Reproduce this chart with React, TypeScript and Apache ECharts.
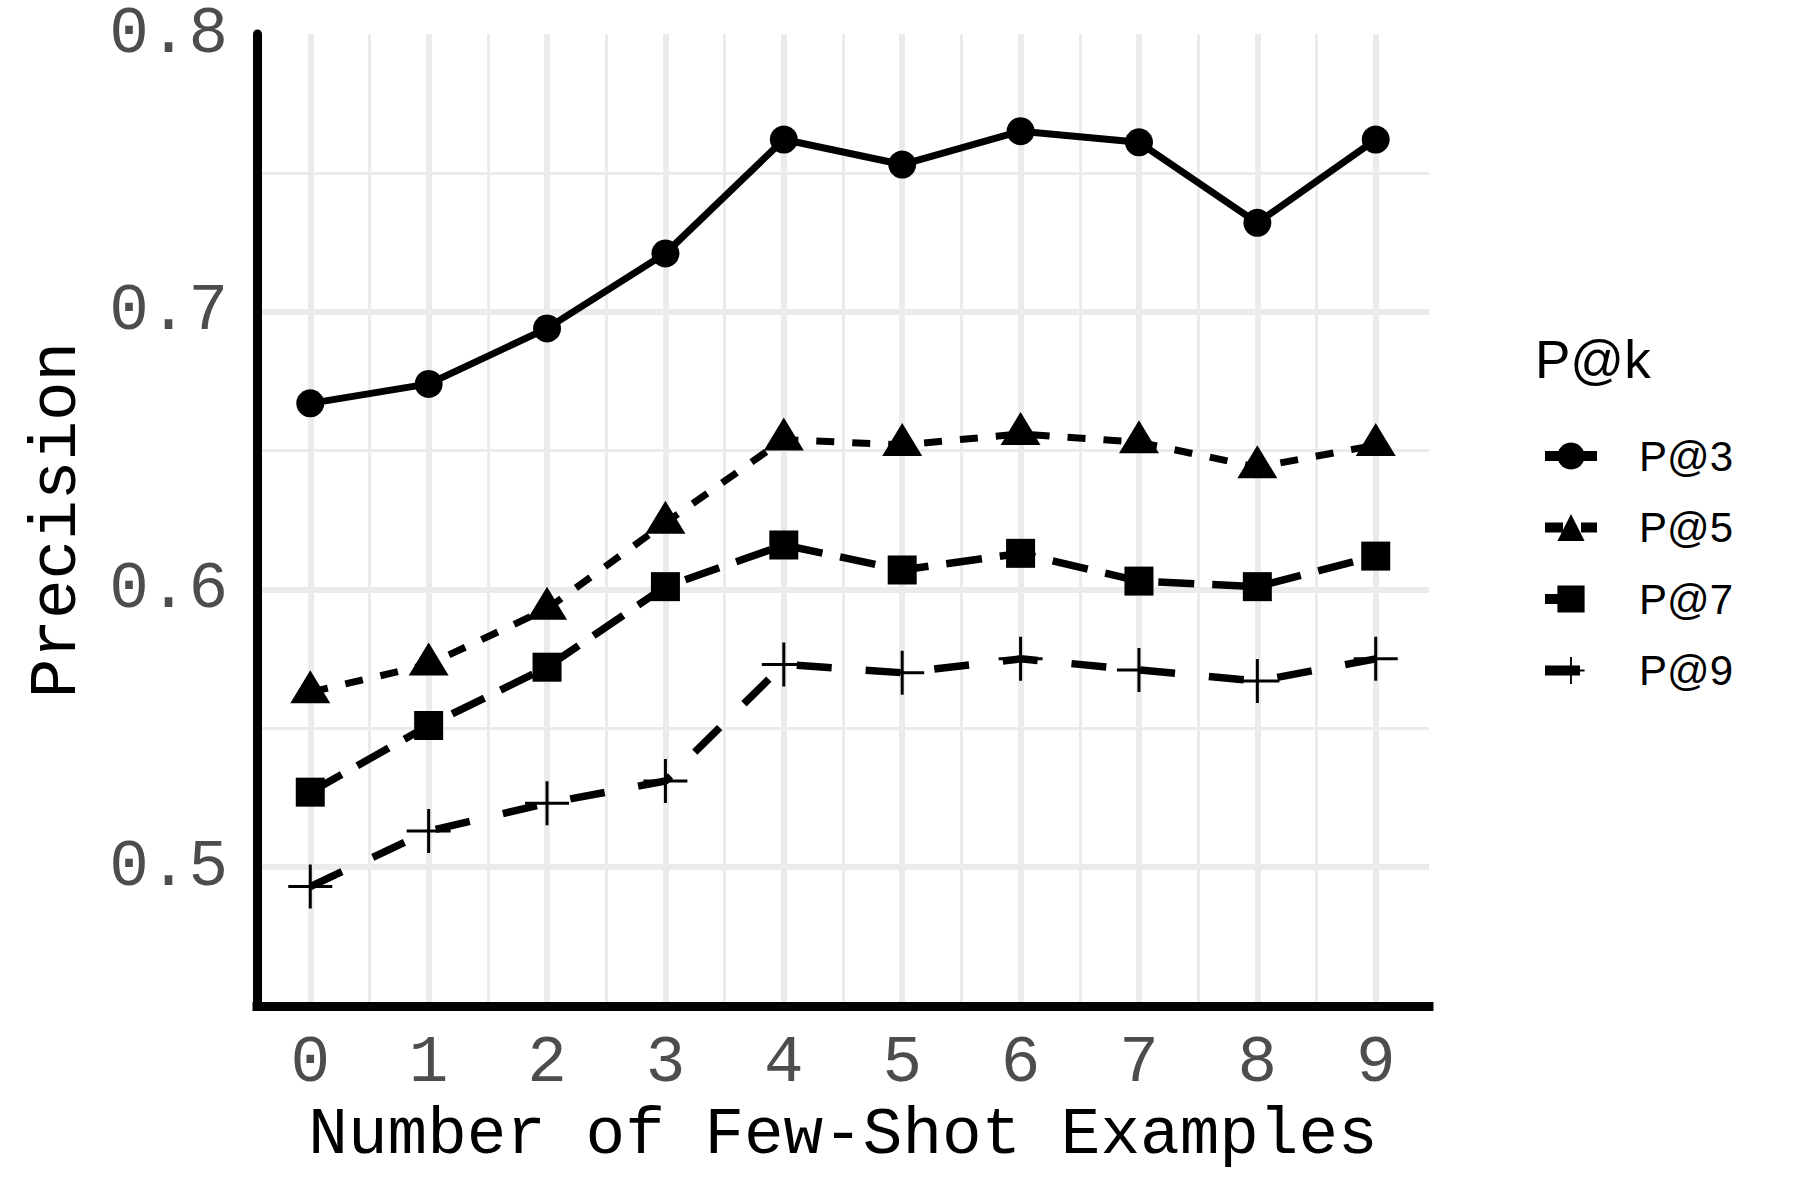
import React, { useEffect, useRef } from "react";
import * as echarts from "echarts";

// ---- data ----
const shots = [0, 1, 2, 3, 4, 5, 6, 7, 8, 9];
const p3 = [0.667, 0.674, 0.694, 0.721, 0.762, 0.753, 0.765, 0.761, 0.732, 0.762];
const p5 = [0.563, 0.573, 0.593, 0.624, 0.654, 0.652, 0.656, 0.653, 0.644, 0.652];
const p7 = [0.527, 0.551, 0.572, 0.601, 0.616, 0.607, 0.613, 0.603, 0.601, 0.612];
const p9 = [0.493, 0.513, 0.523, 0.531, 0.573, 0.57, 0.575, 0.571, 0.567, 0.575];
const seriesNames = ["P@3", "P@5", "P@7", "P@9"];
const legendTitle = "P@k";
const xTitle = "Number of Few-Shot Examples";
const yTitle = "Precision";

const MONO = "'Liberation Mono', 'DejaVu Sans Mono', monospace";
const SANS = "'Liberation Sans', Arial, sans-serif";
const GRID = "#EBEBEB";
const PLUS = "path://M20.5,0H23.5V20.5H44V23.5H23.5V44H20.5V23.5H0V20.5H20.5Z";

export default function App() {
  const ref = useRef<HTMLDivElement>(null);
  useEffect(() => {
    if (!ref.current) return;
    const chart = echarts.init(ref.current, null, { renderer: "svg" });
    const pairs = (vals: number[]) => shots.map((x, i) => [x, vals[i]]);
    const base = {
      type: "line",
      xAxisIndex: 0,
      yAxisIndex: 0,
      z: 3,
      itemStyle: { color: "#000" },
    };
    chart.setOption({
      animation: false,
      backgroundColor: "#fff",
      title: {
        text: legendTitle,
        left: 1535,
        top: 333,
        padding: 0,
        textStyle: { fontFamily: SANS, fontSize: 53, fontWeight: "normal", color: "#000" },
      },
      legend: {
        orient: "vertical",
        left: 1540,
        top: 435,
        padding: 0,
        itemWidth: 52,
        itemHeight: 34,
        itemGap: 29.5,
        data: seriesNames,
        lineStyle: { width: 10 },
        textStyle: {
          fontFamily: SANS,
          fontSize: 42,
          color: "#000",
          lineHeight: 41,
          padding: [0, 0, 0, 37],
        },
      },
      grid: { left: 257, right: 371, top: 34, bottom: 194, outerBoundsMode: "none" },
      xAxis: [
        {
          type: "value",
          min: -0.45,
          max: 9.45,
          minInterval: 1,
          maxInterval: 1,
          position: "bottom",
          z: 2,
          axisLine: { show: true, onZero: false, lineStyle: { color: "#000", width: 9, cap: "square" } },
          axisTick: { show: false },
          splitLine: { show: false },
          axisLabel: {
            showMinLabel: false,
            showMaxLabel: false,
            formatter: (v: number) => (Math.abs(v - Math.round(v)) < 1e-6 ? String(Math.round(v)) : ""),
            margin: 24,
            fontFamily: MONO,
            fontSize: 66,
            color: "#4D4D4D",
          },
          name: xTitle,
          nameLocation: "middle",
          nameGap: 96,
          nameTextStyle: { fontFamily: MONO, fontSize: 66, color: "#000" },
        },
        {
          type: "value",
          min: -0.45,
          max: 9.45,
          minInterval: 1,
          maxInterval: 1,
          position: "top",
          z: 0,
          axisLine: { show: false },
          axisTick: { show: false },
          axisLabel: { show: false },
          splitLine: { show: true, showMinLine: false, showMaxLine: false, lineStyle: { color: GRID, width: 6 } },
        },
        {
          type: "value",
          min: -0.45,
          max: 9.45,
          minInterval: 0.5,
          maxInterval: 0.5,
          position: "top",
          z: 0,
          axisLine: { show: false },
          axisTick: { show: false },
          axisLabel: { show: false },
          splitLine: { show: true, showMinLine: false, showMaxLine: false, lineStyle: { color: GRID, width: 3 } },
        },
      ],
      yAxis: [
        {
          type: "value",
          min: 0.45,
          max: 0.8,
          minInterval: 0.1,
          maxInterval: 0.1,
          position: "left",
          z: 2,
          axisLine: { show: true, onZero: false, lineStyle: { color: "#000", width: 9 } },
          axisTick: { show: false },
          splitLine: { show: false },
          axisLabel: {
            showMinLabel: false,
            formatter: (v: number) => (Math.abs(v * 10 - Math.round(v * 10)) < 1e-6 ? v.toFixed(1) : ""),
            margin: 29,
            fontFamily: MONO,
            fontSize: 66,
            lineHeight: 56,
            color: "#4D4D4D",
          },
          name: yTitle,
          nameLocation: "middle",
          nameGap: 167,
          nameTextStyle: { fontFamily: MONO, fontSize: 66, color: "#000" },
        },
        {
          type: "value",
          min: 0.45,
          max: 0.8,
          minInterval: 0.1,
          maxInterval: 0.1,
          position: "right",
          z: 0,
          axisLine: { show: false },
          axisTick: { show: false },
          axisLabel: { show: false },
          splitLine: { show: true, showMinLine: false, showMaxLine: false, lineStyle: { color: GRID, width: 6 } },
        },
        {
          type: "value",
          min: 0.45,
          max: 0.8,
          interval: 0.05,
          position: "right",
          z: 0,
          axisLine: { show: false },
          axisTick: { show: false },
          axisLabel: { show: false },
          splitLine: { show: true, showMinLine: false, showMaxLine: false, lineStyle: { color: GRID, width: 3 } },
        },
      ],
      series: [
        {
          ...base,
          name: seriesNames[0],
          data: pairs(p3),
          symbol: "circle",
          symbolSize: 28,
          lineStyle: { color: "#000", width: 7, type: "solid" },
        },
        {
          ...base,
          name: seriesNames[1],
          data: pairs(p5),
          symbol: "triangle",
          symbolSize: [40, 33],
          symbolOffset: [0, -5.5],
          lineStyle: { color: "#000", width: 7, type: [18, 18], cap: "butt" },
        },
        {
          ...base,
          name: seriesNames[2],
          data: pairs(p7),
          symbol: "rect",
          symbolSize: 29,
          lineStyle: { color: "#000", width: 7.5, type: [36, 18], cap: "butt" },
        },
        {
          ...base,
          name: seriesNames[3],
          data: pairs(p9),
          symbol: PLUS,
          symbolSize: 44,
          lineStyle: { color: "#000", width: 7.5, type: [35, 34], cap: "butt" },
        },
      ],
    });
    return () => chart.dispose();
  }, []);
  return (
    <div
      ref={ref}
      style={{ position: "absolute", left: 0, top: 0, width: 1800, height: 1200, background: "#fff" }}
    />
  );
}
